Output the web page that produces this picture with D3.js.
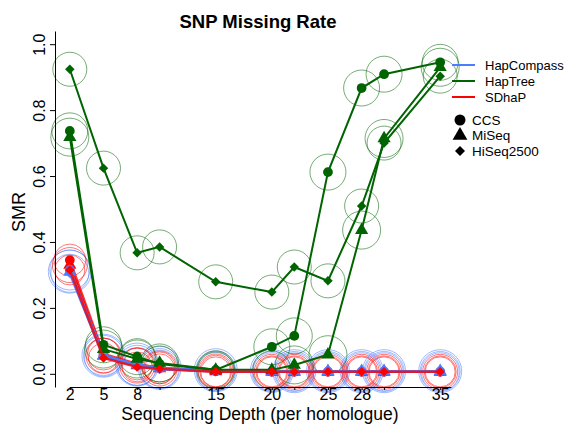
<!DOCTYPE html>
<html>
<head>
<meta charset="utf-8">
<script src="https://cdn.jsdelivr.net/npm/d3@7"></script>
<style>
  body { margin: 0; background: #fff; }
  text { font-family: "Liberation Sans", Arial, sans-serif; fill: #000; }
</style>
</head>
<body>
<div id="chart"></div>
<script>
const width = 566,
    height = 425;

// data
const depths = [2, 5, 8, 10, 15, 20, 22, 25, 28, 30, 35];
const labeledDepths = [2, 5, 8, 15, 20, 25, 28, 35];
const yTicks = [0, 0.2, 0.4, 0.6, 0.8, 1.0];

const methods = ["HapCompass", "HapTree", "SDhaP"];
const dataTypes = ["CCS", "MiSeq", "HiSeq2500"];

const hapCompassCCS = [0.315, 0.056, 0.026, 0.016, 0.009, 0.007, 0.007, 0.007, 0.007, 0.007, 0.007];
const hapCompassMiSeq = [0.31, 0.055, 0.028, 0.018, 0.011, 0.009, 0.008, 0.008, 0.008, 0.008, 0.008];
const hapCompassHiSeq = [0.305, 0.05, 0.022, 0.014, 0.007, 0.006, 0.006, 0.006, 0.006, 0.006, 0.006];

const hapTreeCCS = [0.737, 0.088, 0.052, 0.03, 0.012, 0.082, 0.115, 0.612, 0.867, 0.909, 0.945];
const hapTreeMiSeq = [0.718, 0.075, 0.045, 0.033, 0.012, 0.012, 0.027, 0.058, 0.436, 0.714, 0.93];
const hapTreeHiSeq = [0.924, 0.624, 0.367, 0.385, 0.279, 0.248, 0.324, 0.282, 0.509, 0.70, 0.903];

const sdhapCCS = [0.345, 0.06, 0.03, 0.018, 0.008, 0.006, 0.006, 0.006, 0.006, 0.006, 0.006];
const sdhapMiSeq = [0.33, 0.055, 0.025, 0.016, 0.007, 0.006, 0.006, 0.006, 0.006, 0.006, 0.006];
const sdhapHiSeq = [0.315, 0.048, 0.021, 0.015, 0.006, 0.006, 0.006, 0.006, 0.006, 0.006, 0.006];

const seriesValues = {
    HapCompass: [hapCompassCCS, hapCompassMiSeq, hapCompassHiSeq],
    HapTree: [hapTreeCCS, hapTreeMiSeq, hapTreeHiSeq],
    SDhaP: [sdhapCCS, sdhapMiSeq, sdhapHiSeq]
};

const color = d3.scaleOrdinal()
    .domain(methods)
    .range(["#4d7dff", "#006400", "#ff0000"]);

// rings round each point, a bit different for each method
const ringRadius = { HapCompass: [20, 21.5, 19], HapTree: [18, 19, 17], SDhaP: [16, 17.5, 15] };

const svg = d3.select("#chart")
    .append("svg")
    .attr("width", width)
    .attr("height", height);

// plot region like R: data range + 4%
const x = d3.scaleLinear().domain([0.68, 36.32]).range([55, 455]);
const y = d3.scaleLinear().domain([-0.04, 1.04]).range([387, 31]);

// circle, triangle, diamond (square turned 45deg, like pch 18)
const symbols = [d3.symbolCircle, d3.symbolTriangle, d3.symbolSquare];
const symbolSize = [75, 75, 45];
const symbolRot = [0, 0, 45];

const line = d3.line()
    .x((d, i) => x(depths[i]))
    .y(d => y(d));

const ringLayer = svg.append("g");
const lineLayer = svg.append("g");

methods.forEach(m => {
    seriesValues[m].forEach((vals, t) => {
        ringLayer.selectAll(null)
            .data(vals)
            .join("circle")
            .attr("cx", (d, i) => x(depths[i]))
            .attr("cy", d => y(d))
            .attr("r", ringRadius[m][t])
            .attr("fill", "none")
            .attr("stroke", color(m))
            .attr("stroke-opacity", 0.6)
            .attr("stroke-width", 0.9);
    });
});

// drawing order: SDhaP CCS/MiSeq under, SDhaP HiSeq on top
const order = [["SDhaP", 0], ["SDhaP", 1],
    ["HapCompass", 0], ["HapCompass", 1], ["HapCompass", 2],
    ["HapTree", 0], ["HapTree", 1], ["HapTree", 2],
    ["SDhaP", 2]];

order.forEach(([m, t]) => {
    const vals = seriesValues[m][t];
    lineLayer.append("path")
        .datum(vals)
        .attr("d", line)
        .attr("fill", "none")
        .attr("stroke", color(m))
        .attr("stroke-opacity", m === "SDhaP" ? 0.8 : 1)
        .attr("stroke-width", m === "HapTree" ? 2 : 2.5);

    lineLayer.selectAll(null)
        .data(vals)
        .join("path")
        .attr("transform", (d, i) => `translate(${x(depths[i])},${y(d)}) rotate(${symbolRot[t]})`)
        .attr("d", d3.symbol().type(symbols[t]).size(symbolSize[t]))
        .attr("fill", color(m));
});

// axes
const yAxis = svg.append("g")
    .attr("transform", `translate(55,0)`)
    .call(d3.axisLeft(y).tickValues(yTicks).tickSize(5).tickSizeOuter(0).tickFormat(d3.format(".1f")));
yAxis.select(".domain").attr("stroke", "#000");
yAxis.selectAll(".tick text")
    .attr("x", 0).attr("y", 0).attr("dy", 0)
    .attr("text-anchor", "middle")
    .attr("transform", "translate(-10,0) rotate(-90)")
    .style("font-size", "16px")
    .style("font-family", "Liberation Sans, Arial, sans-serif");

const xAxis = svg.append("g")
    .attr("transform", `translate(0,387)`)
    .call(d3.axisBottom(x).tickValues(depths).tickSize(3).tickSizeOuter(0)
        .tickFormat(d => labeledDepths.includes(d) ? d : ""));
xAxis.select(".domain").attr("d", `M${x(2)},0.5H${x(36)}`).attr("stroke", "#000");
xAxis.selectAll(".tick text")
    .attr("y", 2)
    .style("font-size", "16px")
    .style("font-family", "Liberation Sans, Arial, sans-serif");

// titles
svg.append("text")
    .text("SNP Missing Rate")
    .attr("x", 258).attr("y", 28)
    .attr("text-anchor", "middle")
    .style("font-weight", "bold")
    .style("font-size", "18.5px");

svg.append("text")
    .text("Sequencing Depth (per homologue)")
    .attr("x", 260).attr("y", 420)
    .attr("text-anchor", "middle")
    .style("font-size", "17.5px");

svg.append("text")
    .text("SMR")
    .attr("transform", "translate(25,212) rotate(-90)")
    .attr("text-anchor", "middle")
    .style("font-size", "18px");

// legend
const legend = svg.append("g");
methods.forEach((m, i) => {
    legend.append("line")
        .attr("x1", 452).attr("x2", 475)
        .attr("y1", 65 + i * 16).attr("y2", 65 + i * 16)
        .attr("stroke", color(m))
        .attr("stroke-width", 2);
    legend.append("text")
        .text(m)
        .attr("x", 485).attr("y", 65 + i * 16)
        .attr("dy", "0.35em")
        .style("font-size", "13px");
});
dataTypes.forEach((t, i) => {
    legend.append("path")
        .attr("transform", `translate(460,${120 + i * 15.5}) rotate(${symbolRot[i]})`)
        .attr("d", d3.symbol().type(symbols[i]).size(i === 2 ? 50 : 95))
        .attr("fill", "#000");
    legend.append("text")
        .text(t)
        .attr("x", 472).attr("y", 120 + i * 15.5)
        .attr("dy", "0.35em")
        .style("font-size", "13.5px");
});
</script>
</body>
</html>
